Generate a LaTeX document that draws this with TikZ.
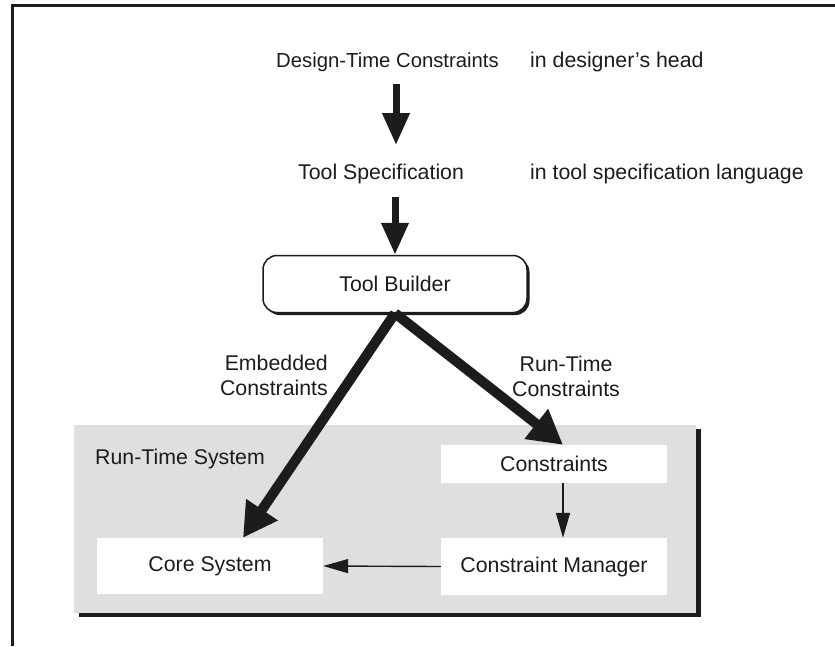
\documentclass[tikz,border=0pt]{standalone}
\usepackage{fontspec}
\setmainfont{Liberation Sans}
\usetikzlibrary{arrows.meta,shadows}
\definecolor{panelgray}{RGB}{222,223,225}
\definecolor{ink}{RGB}{28,28,28}
\begin{document}
\begin{tikzpicture}[x=1pt,y=-1pt,
  txt/.style={font=\fontsize{21.3}{25}\selectfont, text=ink, inner sep=0pt},
  bigarrow/.style={draw=ink, line width=7pt, -{Triangle[width=26pt,length=32pt]}},
  slantarrow/.style={draw=ink, line width=10pt, -{Triangle[width=36pt,length=34pt]}},
  smallarrow/.style={draw=ink, line width=1.4pt, -{Triangle[width=14pt,length=25pt]}},
  whitebox/.style={txt, fill=white, minimum width=226pt},
  hardshadow/.style={drop shadow={shadow xshift=#1, shadow yshift=-#1, fill=ink, opacity=1}}]
\useasboundingbox (0,0) rectangle (835,646);
\fill[white] (0,0) rectangle (835,646);

% page frame: top and left rules only
\draw[ink, line width=3pt] (835,5.3) -- (12,5.3) -- (12,646);

% design-time part
\node (dtc) [txt, font=\fontsize{20.3}{25}\selectfont, anchor=base west] at (276,67) {Design-Time Constraints};
\node (dtcnote) [txt, anchor=base west] at (530,67) {in designer’s head};
\node (ts) [txt, anchor=base west] at (298,179) {Tool Specification};
\node (tsnote) [txt, anchor=base west] at (530,179) {in tool specification language};

\coordinate (a1s) at (396,84);
\coordinate (a1e) at (396,145);
\coordinate (a2s) at (395,197);
\draw[bigarrow] (a1s) -- (a1e);

% run-time system panel
\node (panel) [fill=panelgray, minimum width=622pt, minimum height=188pt, inner sep=0pt,
  drop shadow={shadow xshift=5pt, shadow yshift=-4pt, fill=ink, opacity=1}] at (385,519) {};
\node (rts) [txt, anchor=base west] at (95,464) {Run-Time System};

\node (con) [whitebox, minimum height=38pt] at (554,464) {Constraints};
\node (cm) [whitebox, minimum height=57pt] at (554,566.5) {Constraint Manager};
\node (cs) [whitebox, minimum height=56pt] at (210,566) {Core System};

% tool builder
\node (tb) [txt, draw=ink, line width=1.5pt, fill=white, rounded corners=14pt,
  minimum width=264pt, minimum height=57pt, hardshadow=2.5pt] at (395,284) {Tool Builder};
\draw[bigarrow] (a2s) -- (tb.north);

% generated constraints
\draw[slantarrow] (tb.south) -- ([xshift=33pt]cs.north);
\draw[slantarrow] (tb.south) -- ([xshift=9pt]con.north);

\node (embl) [txt, align=right, anchor=north east] at (328,355) {Embedded\\Constraints};
\node (rtl) [txt, align=center, anchor=north] at (566,356) {Run-Time\\Constraints};

% run-time flow
\draw[smallarrow] ([xshift=9pt]con.south) -- ([xshift=9pt]cm.north);
\draw[smallarrow] (cm.west) -- (cs.east);
\end{tikzpicture}
\end{document}
